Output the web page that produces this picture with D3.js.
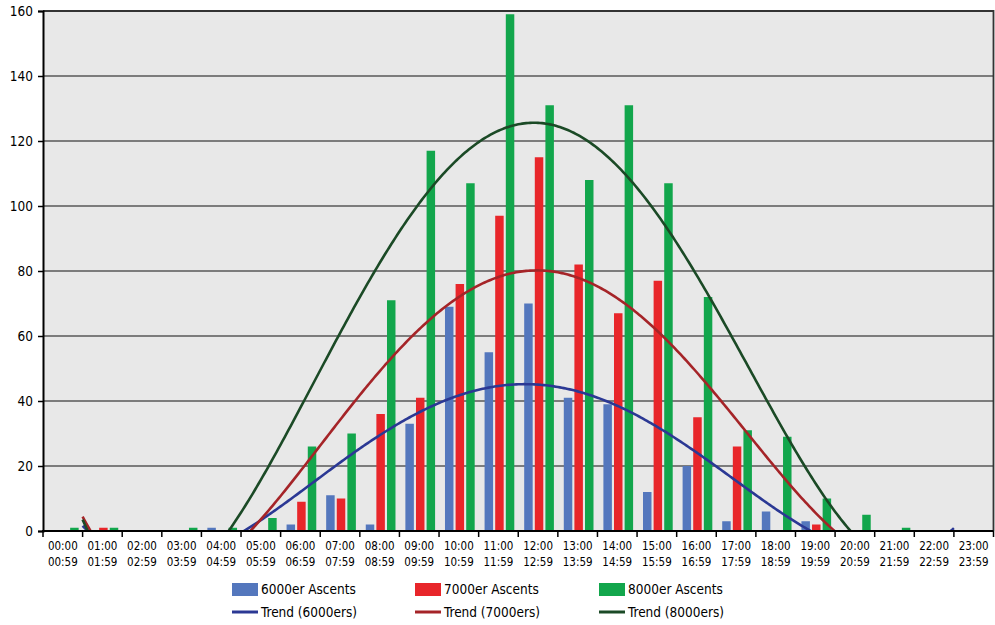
<!DOCTYPE html>
<html>
<head>
<meta charset="utf-8">
<script src="https://cdn.jsdelivr.net/npm/d3@7"></script>
<style>
  body { margin: 0; background: #fff; }
  text { font-family: "DejaVu Sans Condensed", "DejaVu Sans", sans-serif; fill: #000; }
</style>
</head>
<body>
<svg id="chart" width="995" height="625"></svg>
<script>
// Hourly time slots (start / end of each hour)
const slotStart = ["00:00","01:00","02:00","03:00","04:00","05:00","06:00","07:00","08:00","09:00","10:00","11:00",
                   "12:00","13:00","14:00","15:00","16:00","17:00","18:00","19:00","20:00","21:00","22:00","23:00"];
const slotEnd   = ["00:59","01:59","02:59","03:59","04:59","05:59","06:59","07:59","08:59","09:59","10:59","11:59",
                   "12:59","13:59","14:59","15:59","16:59","17:59","18:59","19:59","20:59","21:59","22:59","23:59"];

// Summit ascents per hour
const ascents6000 = [0,0,0,0,1,0,2,11,2,33,69,55,70,41,39,12,20,3,6,3,0,0,0,0];
const ascents7000 = [0,1,0,0,0,0,9,10,36,41,76,97,115,82,67,77,35,26,0,2,0,0,0,0];
const ascents8000 = [1,1,0,1,1,4,26,30,71,117,107,159,131,108,131,107,72,31,29,10,5,1,0,0];

const yTicks = [0,20,40,60,80,100,120,140,160];
const barNames = ["6000er Ascents","7000er Ascents","8000er Ascents"];
const trendNames = ["Trend (6000ers)","Trend (7000ers)","Trend (8000ers)"];

const series = [ascents6000, ascents7000, ascents8000];
const barColors = ["#5477BD","#E8262A","#12A64C"];
const trendColors = ["#2B3894","#A52428","#1B4A26"];
const trendOrder = 4;

const svg = d3.select("#chart");
const plot = { left: 43, right: 993.5, top: 11, bottom: 531 };

const x = d3.scaleBand().domain(d3.range(slotStart.length)).range([plot.left, plot.right]).padding(0);
const xIdx = d3.scaleLinear().domain([-0.5, slotStart.length - 0.5]).range([plot.left, plot.right]);
const xInner = d3.scaleBand().domain(d3.range(series.length))
  .range([x.bandwidth() * 0.15, x.bandwidth() * 0.90]).paddingInner(0.2);
const y = d3.scaleLinear().domain([0, 160]).range([plot.bottom, plot.top]);

// plot background
svg.append("rect")
  .attr("x", plot.left).attr("y", plot.top)
  .attr("width", plot.right - plot.left).attr("height", plot.bottom - plot.top)
  .attr("fill", "#E8E8E8");

// horizontal gridlines
svg.append("g").selectAll("line")
  .data(yTicks.filter(t => t > 0 && t < 160))
  .join("line")
  .attr("x1", plot.left).attr("x2", plot.right)
  .attr("y1", d => y(d)).attr("y2", d => y(d))
  .attr("stroke", "#7C7C7C").attr("stroke-width", 1.8);

// bars
const groups = svg.append("g").selectAll("g")
  .data(series)
  .join("g")
  .attr("fill", (d, i) => barColors[i]);
groups.each(function (vals, si) {
  d3.select(this).selectAll("rect")
    .data(vals)
    .join("rect")
    .attr("x", (v, k) => x(k) + xInner(si))
    .attr("width", xInner.bandwidth())
    .attr("y", v => y(v))
    .attr("height", v => y(0) - y(v));
});

// least-squares polynomial trend of the given order
function polyFit(xs, ys, order) {
  const n = order + 1;
  const A = Array.from({ length: n }, () => new Array(n).fill(0));
  const b = new Array(n).fill(0);
  xs.forEach((xv, i) => {
    const p = [];
    for (let j = 0; j < n; j++) p.push(Math.pow(xv, j));
    for (let r = 0; r < n; r++) {
      b[r] += p[r] * ys[i];
      for (let c = 0; c < n; c++) A[r][c] += p[r] * p[c];
    }
  });
  for (let col = 0; col < n; col++) {
    let piv = col;
    for (let r = col + 1; r < n; r++) if (Math.abs(A[r][col]) > Math.abs(A[piv][col])) piv = r;
    [A[col], A[piv]] = [A[piv], A[col]];
    [b[col], b[piv]] = [b[piv], b[col]];
    for (let r = col + 1; r < n; r++) {
      const f = A[r][col] / A[col][col];
      for (let c = col; c < n; c++) A[r][c] -= f * A[col][c];
      b[r] -= f * b[col];
    }
  }
  const coef = new Array(n).fill(0);
  for (let r = n - 1; r >= 0; r--) {
    let s = b[r];
    for (let c = r + 1; c < n; c++) s -= A[r][c] * coef[c];
    coef[r] = s / A[r][r];
  }
  return coef;
}

const mid = (slotStart.length - 1) / 2;
const norm = k => (k - mid) / mid;

svg.append("clipPath").attr("id", "plotClip")
  .append("rect")
  .attr("x", plot.left).attr("y", plot.top)
  .attr("width", plot.right - plot.left).attr("height", plot.bottom - plot.top);

// trend curves, clipped to the plot area (negative parts hidden)
const trendG = svg.append("g").attr("clip-path", "url(#plotClip)");
const samples = d3.range(0.5, 22.5001, 0.05);
series.forEach((vals, si) => {
  const coef = polyFit(vals.map((v, k) => norm(k)), vals, trendOrder);
  const f = k => coef.reduce((s, c, j) => s + c * Math.pow(norm(k), j), 0);
  const line = d3.line().x(k => xIdx(k)).y(k => y(f(k)));
  trendG.append("path")
    .attr("d", line(samples))
    .attr("fill", "none")
    .attr("stroke", trendColors[si])
    .attr("stroke-width", 2.6)
    .attr("stroke-linejoin", "round");
});

// plot frame: top and right edges
svg.append("path")
  .attr("d", `M${plot.left},${plot.top}H${plot.right}V${plot.bottom}`)
  .attr("fill", "none").attr("stroke", "#333").attr("stroke-width", 1.8);

// y axis
const yAxis = svg.append("g").attr("transform", `translate(${plot.left},0)`)
  .call(d3.axisLeft(y).tickValues(yTicks).tickSize(5).tickPadding(5));
yAxis.select(".domain").attr("stroke", "#000").attr("stroke-width", 2);
yAxis.selectAll(".tick line").attr("stroke", "#000").attr("stroke-width", 1.5);
yAxis.selectAll(".tick text").attr("font-size", 13.5).attr("fill", "#000")
  .style("font-family", '"DejaVu Sans Condensed","DejaVu Sans",sans-serif');

// x axis: ticks on category boundaries
const xAxis = svg.append("g");
xAxis.append("line")
  .attr("x1", plot.left - 1).attr("x2", plot.right)
  .attr("y1", plot.bottom).attr("y2", plot.bottom)
  .attr("stroke", "#000").attr("stroke-width", 2);
xAxis.selectAll("line.tk")
  .data(d3.range(slotStart.length + 1))
  .join("line").attr("class", "tk")
  .attr("x1", k => xIdx(k - 0.5)).attr("x2", k => xIdx(k - 0.5))
  .attr("y1", plot.bottom).attr("y2", plot.bottom + 6)
  .attr("stroke", "#000").attr("stroke-width", 1.5);
const lbl = xAxis.selectAll("g.lbl")
  .data(d3.range(slotStart.length))
  .join("g").attr("class", "lbl")
  .attr("transform", k => `translate(${x(k) + x.bandwidth() / 2},0)`);
lbl.append("text").attr("y", 550).attr("text-anchor", "middle").attr("font-size", 11.5)
  .text(k => slotStart[k]);
lbl.append("text").attr("y", 565.5).attr("text-anchor", "middle").attr("font-size", 11.5)
  .text(k => slotEnd[k]);

// legend
const legendX = [232, 415, 599];
const legend = svg.append("g");
barNames.forEach((name, i) => {
  legend.append("rect").attr("x", legendX[i]).attr("y", 583).attr("width", 26).attr("height", 13)
    .attr("fill", barColors[i]);
  legend.append("text").attr("x", legendX[i] + 29).attr("y", 589.5).attr("dy", "0.36em")
    .attr("font-size", 13.5).text(name);
});
trendNames.forEach((name, i) => {
  legend.append("line").attr("x1", legendX[i]).attr("x2", legendX[i] + 26)
    .attr("y1", 612).attr("y2", 612)
    .attr("stroke", trendColors[i]).attr("stroke-width", 3);
  legend.append("text").attr("x", legendX[i] + 29).attr("y", 612).attr("dy", "0.36em")
    .attr("font-size", 13.5).text(name);
});
</script>
</body>
</html>
